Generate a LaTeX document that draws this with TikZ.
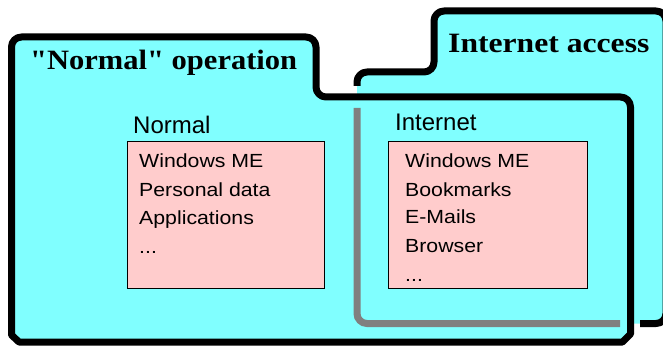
\documentclass[tikz,border=0pt]{standalone}
\usepackage{fontspec}
\newfontfamily\titlefont[FakeStretch=1.09]{Liberation Serif}
\newfontfamily\titlefontwide[FakeStretch=1.13]{Liberation Serif}
\newfontfamily\listfont[FakeStretch=1.12]{Liberation Sans}
\newfontfamily\labelfont{Liberation Sans}
\definecolor{foldercyan}{RGB}{128,255,255}
\definecolor{boxpink}{RGB}{255,204,204}
\definecolor{ghostgrey}{RGB}{128,128,128}
\tikzset{
  folderline/.style={line width=7pt, draw=black, line join=round},
  ghostline/.style={line width=7pt, draw=ghostgrey},
  titletext/.style={anchor=base west, inner sep=0pt, font=\titlefont\bfseries\fontsize{28}{30}\selectfont},
  titletextwide/.style={anchor=base west, inner sep=0pt, font=\titlefontwide\bfseries\fontsize{28}{30}\selectfont},
  labeltext/.style={anchor=base west, inner sep=0pt, font=\labelfont\fontsize{24}{26}\selectfont},
  listtext/.style={anchor=base west, inner sep=0pt, font=\listfont\fontsize{19}{21}\selectfont},
  pinkbox/.style={draw=black, line width=1.3pt, fill=boxpink, anchor=north west, inner sep=0pt},
}
\begin{document}
\begin{tikzpicture}[x=1pt,y=-1pt]
\useasboundingbox (0,0) rectangle (663,347);
\clip (0,0) rectangle (663,347);
% back folder (Internet access)
\fill[foldercyan, rounded corners=10pt] (357,323.5) -- (357,72) -- (434,72) -- (434,11) -- (666,11) -- (666,323.5) -- cycle;
\draw[folderline, rounded corners=10pt] (357,86) -- (357,72) -- (434,72) -- (434,11) -- (666,11) -- (666,323.5) -- (640,323.5);
% front folder (Normal operation)
\filldraw[fill=foldercyan, folderline, rounded corners=10pt] (11.5,200) -- (11.5,37) -- (316,37) -- (316,97) -- (630.5,97) [sharp corners] -- (630.5,334) -- (622.5,342) -- (19,342) -- (11.5,335) -- cycle;
% back folder outline seen through
\draw[ghostline, rounded corners=10pt] (357,108) -- (357,323.5) -- (620,323.5);
% titles
\node[titletext] (tnormal) at (30,70) {"Normal" operation};
\node[titletextwide] (tinternet) at (448,53) {Internet access};
% Normal partition
\node[labeltext] (lnormal) at (133,134) {Normal};
\node[pinkbox, minimum width=197pt, minimum height=147pt] (bnormal) at (127,141) {};
\node[listtext] (n1) at (139,168) {Windows ME};
\node[listtext] (n2) at (139,196.5) {Personal data};
\node[listtext] (n3) at (139,225) {Applications};
\node[listtext] (n4) at (139,253) {...};
% Internet partition
\node[labeltext] (linternet) at (395,131) {Internet};
\node[pinkbox, minimum width=199pt, minimum height=147pt] (binternet) at (388,141) {};
\node[listtext] (i1) at (405,168) {Windows ME};
\node[listtext] (i2) at (405,196.5) {Bookmarks};
\node[listtext] (i3) at (405,224) {E-Mails};
\node[listtext] (i4) at (405,252) {Browser};
\node[listtext] (i5) at (405,281) {...};
\end{tikzpicture}
\end{document}
